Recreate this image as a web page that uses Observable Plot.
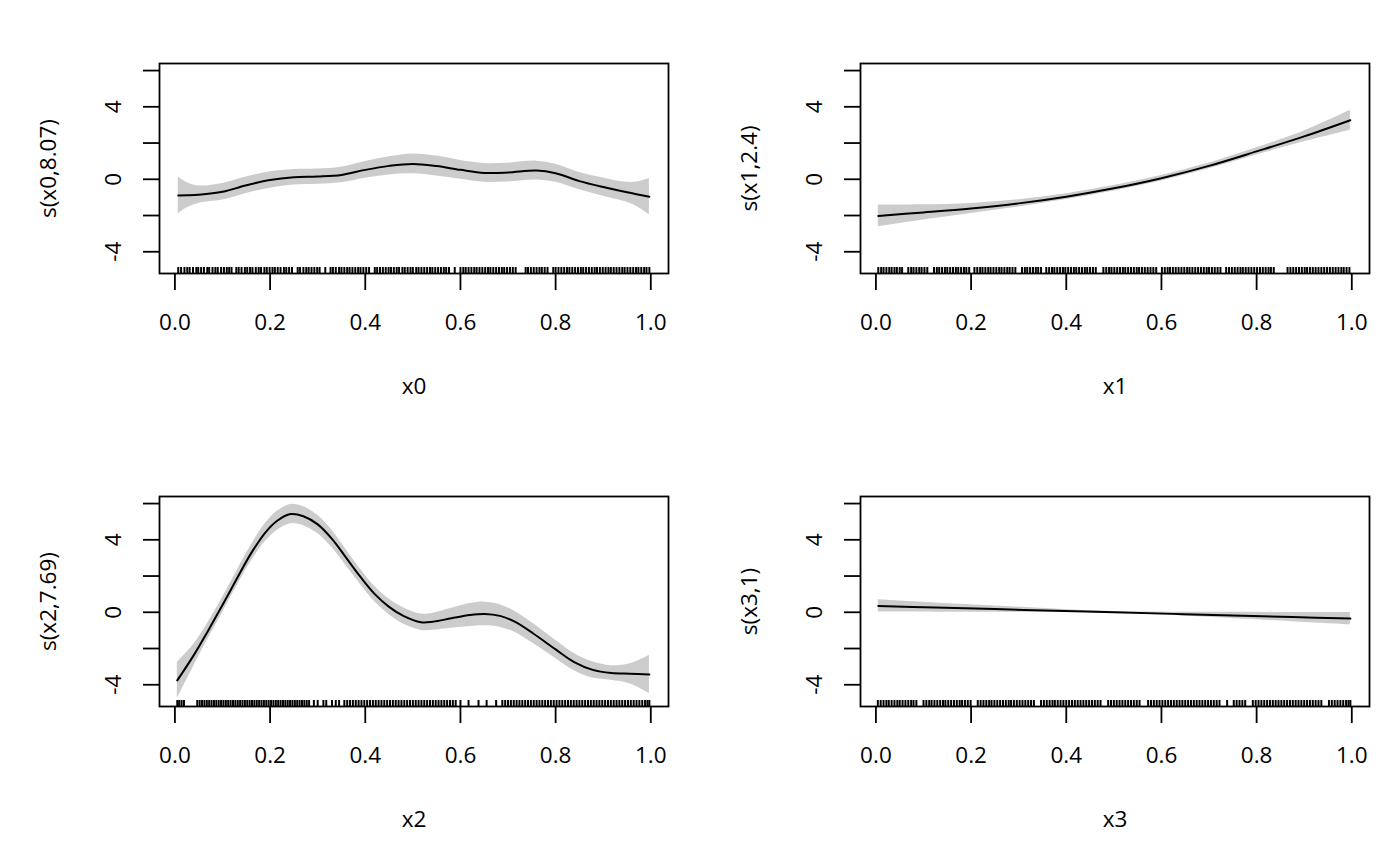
<!DOCTYPE html>
<html>
<head>
<meta charset="utf-8">
<script src="https://cdn.jsdelivr.net/npm/d3@7"></script>
<script src="https://cdn.jsdelivr.net/npm/@observablehq/plot@0.6"></script>
<style>
  html, body { margin: 0; padding: 0; background: #fff; }
  #fig { position: relative; width: 1400px; height: 866px; background: #fff; overflow: hidden; }
</style>
</head>
<body>
<div id="fig"></div>
<script>
// ---- data ----
const xTicks = [0, 0.2, 0.4, 0.6, 0.8, 1.0];
const yTicks = [-4, -2, 0, 2, 4, 6];
const yLabels = [-4, 0, 4];

// panel 1: s(x0,8.07)
const x0Grid = [0.007, 0.025, 0.05, 0.1, 0.15, 0.2, 0.25, 0.3, 0.35, 0.4, 0.45, 0.5, 0.55, 0.6, 0.65, 0.7, 0.76, 0.8, 0.85, 0.9, 0.95, 0.975, 0.997];
const x0Fit  = [-0.89, -0.88, -0.85, -0.69, -0.33, -0.04, 0.11, 0.15, 0.24, 0.52, 0.74, 0.85, 0.73, 0.52, 0.35, 0.37, 0.48, 0.33, -0.1, -0.43, -0.72, -0.85, -0.96];
const x0Ci   = [1.0, 0.7, 0.48, 0.46, 0.45, 0.45, 0.43, 0.42, 0.43, 0.46, 0.5, 0.55, 0.55, 0.52, 0.52, 0.52, 0.52, 0.5, 0.48, 0.5, 0.55, 0.72, 1.0];
const x0Rug  = [0.007,0.013,0.02,0.026,0.031,0.038,0.045,0.049,0.055,0.061,0.068,0.072,0.079,0.085,0.09,0.097,0.103,0.109,0.114,0.119,
  0.129,0.134,0.14,0.147,0.152,0.158,0.163,0.17,0.176,0.181,0.188,0.193,0.199,0.205,0.21,0.216,0.222,0.229,0.234,0.24,0.246,
  0.258,0.263,0.27,0.276,0.281,0.287,0.293,0.299,0.304,0.316,0.327,0.332,0.338,0.345,0.35,0.356,0.362,0.367,0.373,0.379,0.385,0.39,0.396,0.402,0.408,
  0.42,0.425,0.431,0.437,0.443,0.449,0.454,0.46,0.466,0.471,0.478,0.483,0.489,0.495,0.5,0.507,0.512,0.518,0.524,0.53,0.536,0.541,0.547,0.553,0.559,0.565,0.57,0.576,
  0.588,0.6,0.606,0.611,0.617,0.623,0.629,0.634,0.64,0.646,0.652,0.658,0.663,0.669,0.675,0.681,0.687,0.692,0.698,0.704,0.71,0.716,
  0.737,0.742,0.748,0.754,0.76,0.766,0.771,0.777,0.783,0.795,0.8,0.806,0.812,0.818,0.824,0.829,0.835,0.841,0.847,0.853,0.858,0.864,0.87,0.876,0.882,0.887,0.893,
  0.899,0.905,0.911,0.916,0.922,0.928,0.934,0.94,0.945,0.951,0.957,0.963,0.969,0.974,0.98,0.986,0.991,0.997];

// panel 2: s(x1,2.4)
const x1Grid = [0.005, 0.1, 0.2, 0.3, 0.4, 0.5, 0.6, 0.7, 0.8, 0.9, 0.997];
const x1Fit  = [-2.02, -1.83, -1.61, -1.33, -0.96, -0.5, 0.06, 0.74, 1.54, 2.37, 3.26];
const x1Ci   = [0.6, 0.42, 0.28, 0.2, 0.16, 0.15, 0.15, 0.16, 0.2, 0.3, 0.55];
const x1Rug  = [0.005,0.011,0.016,0.022,0.028,0.033,0.039,0.044,0.05,0.055,0.068,0.074,0.079,0.085,0.091,0.096,0.102,0.108,
  0.122,0.128,0.133,0.139,0.145,0.15,0.156,0.162,0.168,0.173,0.179,0.185,0.19,0.196,
  0.207,0.213,0.219,0.224,0.23,0.236,0.241,0.247,0.253,0.259,0.264,0.27,0.276,0.281,0.287,0.293,
  0.307,0.313,0.318,0.324,0.33,0.336,0.341,0.347,0.358,0.364,0.37,0.375,0.381,0.387,0.393,0.398,0.404,0.41,0.416,0.421,0.427,0.433,0.439,0.444,0.45,0.456,0.462,
  0.478,0.484,0.49,0.495,0.501,0.507,0.513,0.519,0.524,0.53,0.536,0.542,0.548,0.553,0.559,0.565,0.571,0.577,0.583,0.589,
  0.601,0.607,0.613,0.618,0.624,0.63,0.636,0.642,0.648,0.654,0.659,0.665,0.671,0.677,0.683,0.689,0.695,0.7,0.706,0.712,0.718,0.724,
  0.736,0.742,0.748,0.754,0.76,0.766,0.771,0.777,0.783,0.789,0.795,0.801,0.807,0.813,0.819,0.825,0.83,0.836,
  0.865,0.871,0.877,0.883,0.889,0.895,0.901,0.906,0.912,0.918,0.924,0.93,0.936,0.942,0.948,0.954,0.96,0.966,0.972,0.978,0.983,0.989,0.995];

// panel 3: s(x2,7.69)
const x2Grid = [0.005, 0.04, 0.07, 0.1, 0.13, 0.16, 0.19, 0.215, 0.243, 0.27, 0.3, 0.33, 0.36, 0.39, 0.42, 0.45, 0.48, 0.517, 0.542, 0.581, 0.62, 0.651, 0.683, 0.714, 0.753, 0.8, 0.839, 0.878, 0.917, 0.956, 0.997];
const x2Fit  = [-3.76, -2.35, -1.0, 0.4, 1.85, 3.25, 4.4, 5.05, 5.42, 5.3, 4.85, 4.05, 3.0, 1.95, 1.0, 0.3, -0.2, -0.55, -0.52, -0.33, -0.15, -0.09, -0.2, -0.52, -1.17, -2.05, -2.75, -3.18, -3.35, -3.39, -3.43];
const x2Ci   = [1.0, 0.6, 0.45, 0.42, 0.42, 0.45, 0.5, 0.52, 0.53, 0.52, 0.5, 0.48, 0.45, 0.42, 0.42, 0.43, 0.45, 0.45, 0.47, 0.55, 0.63, 0.65, 0.62, 0.58, 0.55, 0.5, 0.48, 0.45, 0.4, 0.55, 1.05];
const x2Rug  = [0.005,0.009,0.014,0.019,0.047,0.052,0.057,0.062,0.067,0.072,0.077,0.082,0.087,0.092,0.097,0.102,0.107,0.112,0.117,0.122,0.127,0.132,0.137,0.142,
  0.147,0.152,0.157,0.162,0.167,0.172,0.177,0.182,0.187,0.192,0.197,0.202,0.207,0.212,0.217,0.222,0.227,0.232,0.237,0.242,0.247,0.252,0.257,0.262,0.267,0.272,0.277,0.282,
  0.292,0.3,0.312,0.318,0.33,0.338,0.345,0.356,0.362,0.368,0.374,0.38,0.386,0.392,0.398,0.404,0.41,0.416,0.422,0.428,0.434,0.44,0.446,0.452,0.458,0.464,0.47,0.476,
  0.482,0.488,0.494,0.5,0.506,0.512,0.518,0.524,0.53,0.536,0.542,0.548,0.554,0.56,0.566,0.572,0.578,0.584,0.59,0.6,0.617,0.638,0.655,
  0.675,0.688,0.694,0.7,0.706,0.712,0.718,0.724,0.73,0.736,0.742,0.748,0.754,0.76,0.766,0.772,0.778,0.784,0.79,0.796,0.802,0.808,0.814,0.82,0.826,0.832,0.838,
  0.844,0.85,0.856,0.862,0.868,0.874,0.88,0.886,0.892,0.898,0.904,0.91,0.916,0.922,0.928,0.934,0.94,0.946,0.952,0.958,0.964,0.97,0.976,0.982,0.988,0.993,0.997];

// panel 4: s(x3,1)
const x3Grid = [0.005, 0.125, 0.25, 0.375, 0.5, 0.625, 0.75, 0.875, 0.997];
const x3Fit  = [0.35, 0.263, 0.175, 0.088, 0.0, -0.088, -0.175, -0.263, -0.35];
const x3Ci   = [0.34, 0.256, 0.173, 0.093, 0.04, 0.093, 0.173, 0.256, 0.34];
const x3Rug  = [0.004,0.01,0.016,0.022,0.027,0.033,0.039,0.045,0.05,0.056,0.062,0.068,0.074,0.079,0.085,
  0.1,0.106,0.112,0.117,0.123,0.129,0.135,0.141,0.146,0.152,0.158,0.164,0.17,0.176,0.181,0.187,0.193,0.199,
  0.214,0.22,0.226,0.232,0.238,0.243,0.249,0.255,0.261,0.267,0.273,0.279,0.284,0.29,0.296,0.302,0.308,0.314,0.32,0.326,0.332,
  0.347,0.353,0.359,0.365,0.371,0.376,0.382,0.388,0.394,0.4,0.406,0.412,0.418,0.424,0.43,0.436,0.442,0.448,0.454,0.46,0.466,0.472,
  0.488,0.494,0.5,0.506,0.512,0.518,0.524,0.53,0.536,0.542,0.548,0.554,
  0.572,0.578,0.584,0.59,0.596,0.602,0.608,0.614,0.62,0.626,0.632,0.638,0.644,0.65,0.656,0.662,0.668,0.674,0.68,0.686,0.692,0.698,0.704,0.71,0.716,0.722,
  0.738,0.752,0.758,0.764,0.77,0.776,0.792,0.798,0.804,0.81,0.816,0.822,0.828,0.834,0.84,0.846,0.852,0.858,0.864,0.87,0.876,0.882,0.888,0.894,0.9,0.906,0.912,0.918,0.924,0.93,0.936,
  0.952,0.958,0.964,0.97,0.976,0.982,0.988,0.993,0.997];

const panels = [
  {grid: x0Grid, fit: x0Fit, ci: x0Ci, rug: x0Rug, xlab: "x0", ylab: "s(x0,8.07)", left: 0,   top: 0},
  {grid: x1Grid, fit: x1Fit, ci: x1Ci, rug: x1Rug, xlab: "x1", ylab: "s(x1,2.4)",  left: 701, top: 0},
  {grid: x2Grid, fit: x2Fit, ci: x2Ci, rug: x2Rug, xlab: "x2", ylab: "s(x2,7.69)", left: 0,   top: 433},
  {grid: x3Grid, fit: x3Fit, ci: x3Ci, rug: x3Rug, xlab: "x3", ylab: "s(x3,1)",    left: 701, top: 433}
];

const FONT = "'Open Sans', 'Noto Sans', sans-serif";
const FS = 22.5;
const X0 = -0.0324, X1 = 1.0372, Y0 = -5.2, Y1 = 6.39;

function panel(p) {
  const data = p.grid.map((x, i) => ({x, fit: p.fit[i], lo: p.fit[i] - p.ci[i], hi: p.fit[i] + p.ci[i]}));
  return Plot.plot({
    width: 700, height: 433,
    marginLeft: 159, marginRight: 32, marginTop: 63, marginBottom: 160,
    style: {fontFamily: FONT, fontSize: FS + "px", background: "transparent", overflow: "visible", color: "black"},
    x: {domain: [X0, X1], axis: null},
    y: {domain: [Y0, Y1], axis: null},
    marks: [
      Plot.areaY(data, {x: "x", y1: "lo", y2: "hi", fill: "#cccccc", curve: "catmull-rom"}),
      Plot.line(data, {x: "x", y: "fit", stroke: "black", strokeWidth: 2, curve: "catmull-rom"}),
      Plot.ruleX(p.rug, {x: d => d, y1: Y0, y2: Y0 + 0.33, stroke: "black", strokeWidth: 2}),
      Plot.frame({stroke: "black", strokeWidth: 1.8}),
      Plot.ruleX(xTicks, {x: d => d, y1: Y0, y2: Y0 - 0.94, stroke: "black", strokeWidth: 1.8}),
      Plot.ruleY(yTicks, {y: d => d, x1: X0, x2: X0 - 0.0336, stroke: "black", strokeWidth: 1.8}),
      Plot.text(xTicks, {x: d => d, text: d => d.toFixed(1), frameAnchor: "bottom", dy: 49, lineAnchor: "middle", fontSize: FS, fill: "black"}),
      Plot.text(yLabels, {y: d => d, text: d => String(d), frameAnchor: "left", dx: -46, rotate: -90, textAnchor: "middle", lineAnchor: "middle", fontSize: FS, fill: "black"}),
      Plot.text([p.xlab], {text: d => d, frameAnchor: "bottom", dy: 113, lineAnchor: "middle", fontSize: FS, fill: "black"}),
      Plot.text([p.ylab], {text: d => d, frameAnchor: "left", dx: -111, rotate: -90, textAnchor: "middle", lineAnchor: "middle", fontSize: FS, fill: "black"})
    ]
  });
}

const fig = document.getElementById("fig");
for (const p of panels) {
  const el = panel(p);
  el.style.left = p.left + "px";
  el.style.top = p.top + "px";
  el.style.position = "absolute";
  fig.appendChild(el);
}
</script>
</body>
</html>
